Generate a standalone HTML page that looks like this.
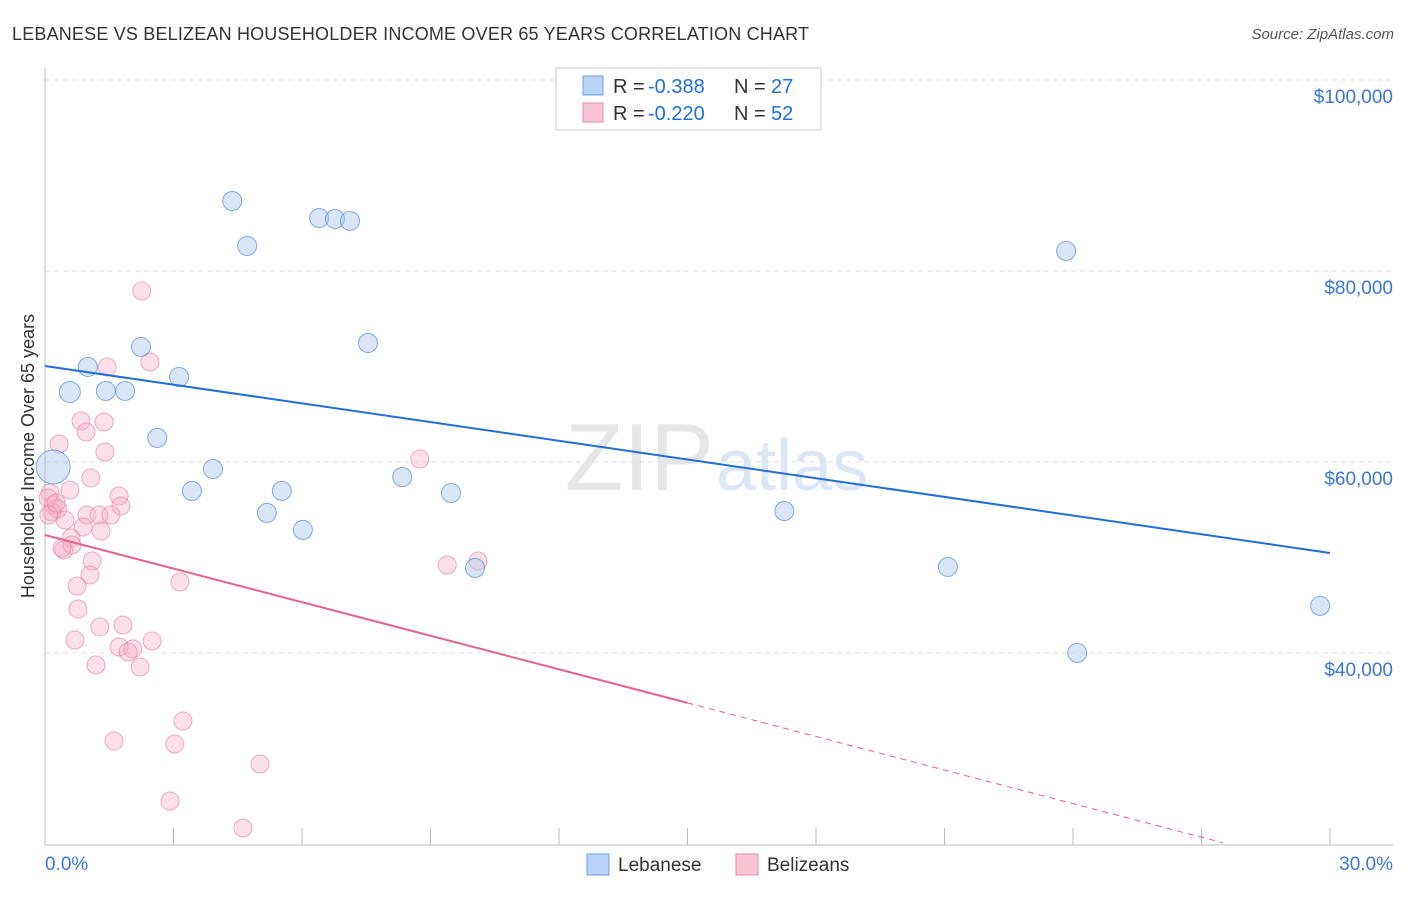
<!DOCTYPE html>
<html><head><meta charset="utf-8"><style>
body{margin:0;background:#fff;font-family:"Liberation Sans",sans-serif;}
svg text{font-family:"Liberation Sans",sans-serif;}
</style></head><body>
<svg id="chart" width="1406" height="892" viewBox="0 0 1406 892">
<text x="12" y="40" font-size="18" fill="#333" textLength="797">LEBANESE VS BELIZEAN HOUSEHOLDER INCOME OVER 65 YEARS CORRELATION CHART</text>
<text x="1394" y="39" font-size="15" fill="#555" font-style="italic" text-anchor="end">Source: ZipAtlas.com</text>
<text x="714" y="490" font-size="96" fill="#e6e6e6" text-anchor="end" font-family="Liberation Serif">ZIP</text>
<text x="716" y="490" font-size="72" fill="#dce7f6">atlas</text>
<g id="grid"></g>
<g id="axes"></g>
<g id="marks"></g>
<text transform="translate(34,456) rotate(-90)" font-size="18" fill="#333" text-anchor="middle">Householder Income Over 65 years</text>
<g>
<rect x="556" y="68" width="265" height="62" fill="#fff" stroke="#ccc"/>
<rect x="583" y="76" width="20" height="19" fill="#b8d3f5" stroke="#6a9fe0"/>
<rect x="583" y="103" width="20" height="19" fill="#f9c5d5" stroke="#e88aa8"/>
<text x="613" y="93" font-size="20" fill="#333">R =</text>
<text x="648" y="93" font-size="20" fill="#1f6fd8">-0.388</text>
<text x="734" y="93" font-size="20" fill="#333">N =</text>
<text x="771" y="93" font-size="20" fill="#1f6fd8">27</text>
<text x="613" y="120" font-size="20" fill="#333">R =</text>
<text x="648" y="120" font-size="20" fill="#1f6fd8">-0.220</text>
<text x="734" y="120" font-size="20" fill="#333">N =</text>
<text x="771" y="120" font-size="20" fill="#1f6fd8">52</text>
</g>
<g>
<rect x="587" y="854" width="22" height="21" fill="#b8d3f5" stroke="#6a9fe0"/>
<text x="618" y="871" font-size="19" fill="#333">Lebanese</text>
<rect x="736" y="854" width="22" height="21" fill="#f9c5d5" stroke="#e88aa8"/>
<text x="767" y="871" font-size="19" fill="#333">Belizeans</text>
</g>
</svg>
<script>
const yTicks=[40000,60000,80000,100000];
const yTickLabels=["$40,000","$60,000","$80,000","$100,000"];
const xTickLabels=["0.0%","30.0%"];
const lebX=[4.37,4.72,6.40,6.77,7.12,23.84,2.24,1.00,3.13,7.54,0.58,1.42,1.87,2.62,3.92,0.19,3.43,5.53,5.18,6.02,8.34,9.48,10.04,17.26,21.08,24.10,29.77];
const lebY=[87330,82620,85550,85450,85240,82100,72050,69950,68900,72460,67330,67440,67440,62520,59270,59480,56970,56970,54670,52890,58430,56760,48910,54870,49010,40010,44930];
const lebSize=[9.5,9.5,9.5,9.5,9.5,9.5,9.5,9.5,9.5,9.5,10.5,9.5,9.5,9.5,9.5,17,9.5,9.5,9.5,9.5,9.5,9.5,9.5,9.5,9.5,9.5,9.5];
const belX=[2.26,2.45,1.45,0.84,0.96,1.38,0.33,1.40,1.07,0.58,0.12,1.73,1.77,0.19,0.30,0.16,0.47,0.98,1.26,1.54,0.89,1.31,0.61,0.44,0.63,1.10,1.05,0.75,3.15,0.77,1.28,1.82,0.70,1.73,2.05,1.94,2.50,1.19,2.22,3.22,1.61,3.03,5.02,2.92,4.62,8.75,9.39,10.11,0.07,0.09,0.26,0.40];
const belY=[77906,70472,69948,64294,63142,64189,61886,61048,58326,57069,56755,56441,55394,55499,55080,54766,53928,54451,54451,54451,53195,52776,52043,50787,51310,49634,48168,47016,47435,44608,42724,42933,41362,40629,40420,40106,41257,38744,38535,32880,30786,30472,28378,24504,21677,60315,49215,49634,56232,54451,55708,50997];
const lebTrend=[70053,50472];
const belTrend=[52357,17196];
const belSolidEnd=15;
const X0=45,X1=1330,Y100=80,PX20K=191;
const xs=p=>X0+(p/30)*(X1-X0);
const ys=v=>Y100+(100000-v)/20000*PX20K;
const NS="http://www.w3.org/2000/svg";
function mk(tag,attrs,parent){const e=document.createElementNS(NS,tag);for(const k in attrs)e.setAttribute(k,attrs[k]);parent.appendChild(e);return e;}
const grid=document.getElementById('grid'),axes=document.getElementById('axes'),marks=document.getElementById('marks');
yTicks.forEach((v,i)=>{
 const l=mk('line',{x1:X0,x2:1393,y1:ys(v),y2:ys(v),stroke:'#e0e0e0','stroke-dasharray':'5,4'},grid);
 
 
 const t=mk('text',{x:1393,y:ys(v)+23,'font-size':19,fill:'#3a78d4','text-anchor':'end'},axes);
 t.textContent=yTickLabels[i];
 
 
});
const ax=mk('line',{x1:X0,x2:X0,y1:68,y2:845,stroke:'#bbb'},axes);


const bx=mk('line',{x1:X0,x2:1393,y1:845,y2:845,stroke:'#bbb'},axes);


for(let p=0;p<=30;p+=3){
 const tk=mk('line',{x1:xs(p),x2:xs(p),y1:828,y2:845,stroke:'#bbb'},axes);
 
 
}
const xl0=mk('text',{x:45,y:870,'font-size':19,fill:'#3a78d4'},axes);
xl0.textContent=xTickLabels[0];


const xl1=mk('text',{x:1393,y:870,'font-size':19,fill:'#3a78d4','text-anchor':'end'},axes);
xl1.textContent=xTickLabels[1];


belX.forEach((x,i)=>{
 const c=mk('circle',{cx:xs(x),cy:ys(belY[i]),r:9,fill:'rgba(245,175,200,0.4)',stroke:'rgba(230,130,165,0.65)','stroke-width':1},marks);
 
 
});
lebX.forEach((x,i)=>{
 const c=mk('circle',{cx:xs(x),cy:ys(lebY[i]),r:lebSize[i],fill:'rgba(170,200,240,0.45)',stroke:'rgba(90,145,220,0.75)','stroke-width':1},marks);
 
 
});
const lt=mk('line',{x1:xs(0),y1:ys(lebTrend[0]),x2:xs(30),y2:ys(lebTrend[1]),stroke:'#1f6fd8','stroke-width':2},marks);


const bv=v=>belTrend[0]+(belTrend[1]-belTrend[0])*v/30;
const bt=mk('line',{x1:xs(0),y1:ys(belTrend[0]),x2:xs(belSolidEnd),y2:ys(bv(belSolidEnd)),stroke:'#e8608c','stroke-width':2},marks);


const bd=mk('line',{x1:xs(belSolidEnd),y1:ys(bv(belSolidEnd)),x2:xs(27.5),y2:ys(bv(27.5)),stroke:'#e8608c','stroke-width':1,'stroke-dasharray':'6,5'},marks);


</script>
</body></html>
